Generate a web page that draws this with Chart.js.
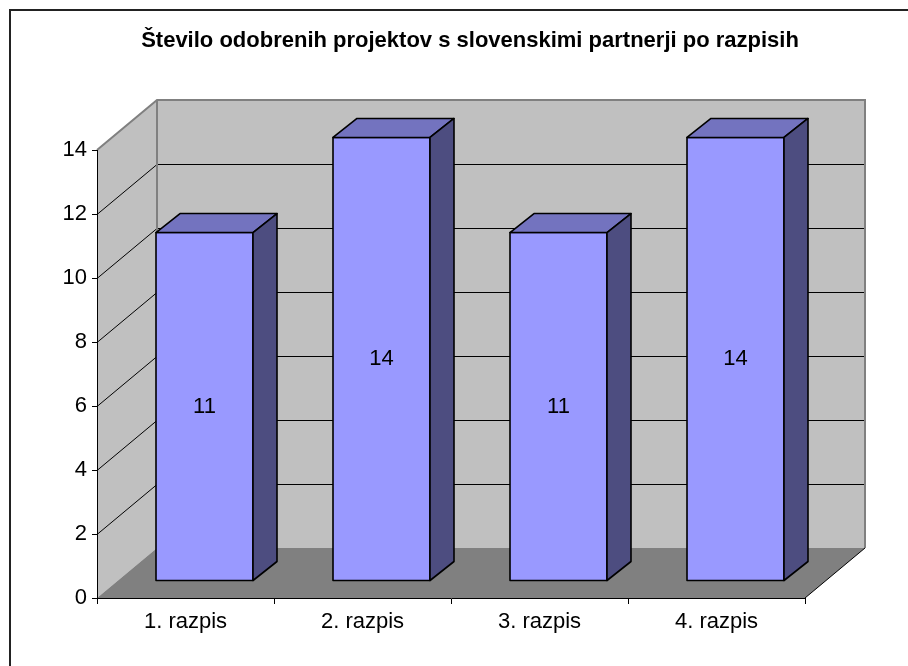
<!DOCTYPE html>
<html>
<head>
<meta charset="utf-8">
<title>Število odobrenih projektov</title>
<script src="https://cdn.jsdelivr.net/npm/chart.js@4.4.1/dist/chart.umd.min.js"></script>
<style>
    html, body { margin: 0; padding: 0; background: #fff; }
    #wrap { width: 908px; height: 666px; }
</style>
</head>
<body>
<div id="wrap"><canvas id="chart" width="908" height="666"></canvas></div>
<script>
// Podatki
const naslov = 'Število odobrenih projektov s slovenskimi partnerji po razpisih';
const razpisi = ['1. razpis', '2. razpis', '3. razpis', '4. razpis'];
const projekti = [11, 14, 11, 14];
const yOznake = [0, 2, 4, 6, 8, 10, 12, 14];

// Globina 3D prostora (zadnja stena glede na sprednjo ravnino)
const GL_X = 60, GL_Y = -50;
// Sprednja in zadnja ploskev stolpcev
const SPREDAJ = { x: 19, y: -17 };
const ZADAJ = { x: 43, y: -36 };
// stolpci so malo globlje, zato malenkost krajši
const PERSP = 0.99;

const FONT = '"Liberation Sans", Arial, sans-serif';

function lik(ctx, tocke) {
    ctx.beginPath();
    ctx.moveTo(tocke[0][0], tocke[0][1]);
    for (let i = 1; i < tocke.length; i++) ctx.lineTo(tocke[i][0], tocke[i][1]);
    ctx.closePath();
}

// Stene, tla, mreža in naslov
const prostor3d = {
    id: 'prostor3d',
    beforeDraw(chart) {
        const ctx = chart.ctx;
        const a = chart.chartArea;
        const y = chart.scales.y;
        const L = a.left, R = a.right, T = a.top, B = a.bottom;

        ctx.save();
        ctx.fillStyle = '#fff';
        ctx.fillRect(0, 0, chart.width, chart.height);

        // okvir
        ctx.strokeStyle = '#222';
        ctx.lineWidth = 2;
        ctx.strokeRect(10, 10, 1000, 1000);

        // naslov
        ctx.fillStyle = '#000';
        ctx.font = 'bold 22px ' + FONT;
        ctx.textAlign = 'center';
        ctx.textBaseline = 'middle';
        ctx.fillText(naslov, 470, 41);

        // zadnja stena
        ctx.fillStyle = '#c0c0c0';
        ctx.fillRect(L + GL_X, T + GL_Y, R - L, B - T);
        // leva stena
        lik(ctx, [[L, T], [L + GL_X, T + GL_Y], [L + GL_X, B + GL_Y], [L, B]]);
        ctx.fill();
        // tla
        ctx.fillStyle = '#808080';
        lik(ctx, [[L, B], [R, B], [R + GL_X, B + GL_Y], [L + GL_X, B + GL_Y]]);
        ctx.fill();

        // mreža
        ctx.strokeStyle = '#000';
        ctx.lineWidth = 1;
        const max = yOznake[yOznake.length - 1];
        yOznake.forEach(v => {
            if (v === 0 || v === max) return;
            const py = Math.round(y.getPixelForValue(v)) + 0.5;
            ctx.beginPath();
            ctx.moveTo(L, py);
            ctx.lineTo(L + GL_X, py + GL_Y);
            ctx.lineTo(R + GL_X, py + GL_Y);
            ctx.stroke();
        });

        // robovi sten
        ctx.strokeStyle = '#808080';
        ctx.lineWidth = 2;
        ctx.beginPath();
        ctx.moveTo(L, T);
        ctx.lineTo(L + GL_X, T + GL_Y);
        ctx.lineTo(R + GL_X, T + GL_Y);
        ctx.lineTo(R + GL_X, B + GL_Y);
        ctx.moveTo(L + GL_X, T + GL_Y);
        ctx.lineTo(L + GL_X, B + GL_Y);
        ctx.stroke();

        // desni rob tal
        ctx.strokeStyle = '#000';
        ctx.lineWidth = 1;
        ctx.beginPath();
        ctx.moveTo(R, B);
        ctx.lineTo(R + GL_X, B + GL_Y);
        ctx.stroke();
        ctx.restore();
    },
    // 3D stolpci in oznake vrednosti
    afterDatasetsDraw(chart) {
        const ctx = chart.ctx;
        const meta = chart.getDatasetMeta(0);
        ctx.save();
        ctx.lineJoin = 'round';
        meta.data.forEach((bar, i) => {
            const p = bar.getProps(['x', 'y', 'base', 'width'], true);
            const l = p.x - p.width / 2, r = p.x + p.width / 2;
            const dno = p.base;
            const vrh = p.base + (p.y - p.base) * PERSP;

            ctx.strokeStyle = '#000';
            ctx.lineWidth = 1.6;

            // sprednja ploskev
            ctx.fillStyle = '#9999ff';
            lik(ctx, [[l + SPREDAJ.x, vrh + SPREDAJ.y], [r + SPREDAJ.x, vrh + SPREDAJ.y],
                      [r + SPREDAJ.x, dno + SPREDAJ.y], [l + SPREDAJ.x, dno + SPREDAJ.y]]);
            ctx.fill();
            ctx.stroke();

            // zgornja ploskev
            ctx.fillStyle = '#7373bf';
            lik(ctx, [[l + SPREDAJ.x, vrh + SPREDAJ.y], [l + ZADAJ.x, vrh + ZADAJ.y],
                      [r + ZADAJ.x, vrh + ZADAJ.y], [r + SPREDAJ.x, vrh + SPREDAJ.y]]);
            ctx.fill();
            ctx.stroke();

            // stranska ploskev
            ctx.fillStyle = '#4d4d80';
            lik(ctx, [[r + SPREDAJ.x, vrh + SPREDAJ.y], [r + ZADAJ.x, vrh + ZADAJ.y],
                      [r + ZADAJ.x, dno + ZADAJ.y], [r + SPREDAJ.x, dno + SPREDAJ.y]]);
            ctx.fill();
            ctx.stroke();

            // vrednost
            ctx.fillStyle = '#000';
            ctx.font = '22px ' + FONT;
            ctx.textAlign = 'center';
            ctx.textBaseline = 'middle';
            ctx.fillText(String(projekti[i]), p.x + SPREDAJ.x, (vrh + dno) / 2 + SPREDAJ.y);
        });
        ctx.restore();
    }
};

const ctx = document.getElementById('chart').getContext('2d');
const chart = new Chart(ctx, {
    type: 'bar',
    data: {
        labels: razpisi,
        datasets: [{
            data: projekti,
            backgroundColor: 'rgba(0,0,0,0)',
            borderWidth: 0,
            barPercentage: 0.548,
            categoryPercentage: 1
        }]
    },
    options: {
        responsive: false,
        animation: false,
        devicePixelRatio: 1,
        layout: {
            padding: { top: 150, right: 103, bottom: 0, left: 0 }
        },
        plugins: {
            legend: { display: false },
            tooltip: { enabled: false },
            title: { display: false }
        },
        scales: {
            x: {
                grid: {
                    offset: true,
                    drawOnChartArea: false,
                    drawTicks: true,
                    tickLength: 6,
                    color: '#000'
                },
                border: { display: true, color: '#000', width: 1 },
                ticks: {
                    color: '#000',
                    font: { family: FONT, size: 22 },
                    padding: 5,
                    maxRotation: 0
                },
                afterFit(scale) { scale.height = 68; }
            },
            y: {
                min: 0,
                max: 14,
                grid: {
                    drawOnChartArea: false,
                    drawTicks: true,
                    tickLength: 5,
                    color: '#000'
                },
                border: { display: true, color: '#000', width: 1 },
                ticks: {
                    color: '#000',
                    font: { family: FONT, size: 22 },
                    padding: 5
                },
                afterBuildTicks(scale) {
                    scale.ticks = yOznake.map(v => ({ value: v }));
                },
                afterFit(scale) { scale.width = 97; }
            }
        }
    },
    plugins: [prostor3d]
});
</script>
</body>
</html>
